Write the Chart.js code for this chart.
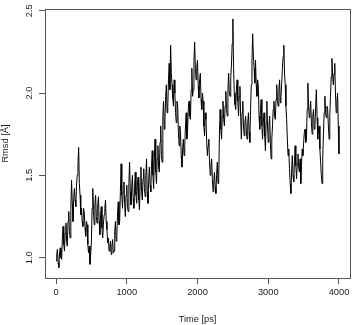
<!DOCTYPE html>
<html><head><meta charset="utf-8">
<script src="https://cdn.jsdelivr.net/npm/chart.js@4"></script>
<style>html,body{margin:0;padding:0;background:#fff}canvas{display:block}</style>
</head><body>
<canvas id="c" width="354" height="325"></canvas>
<script>
// Time axis: one sample every 10 ps starting at 0 ps
const timeStart = 0;
const timeStep = 10;
// RMSD values [Å] (one row = 200 ps)
const rmsd = [
  0.98,1.02,1.05,0.97,0.94,1.03,1.06,1.00,0.99,1.12,1.19,1.08,1.04,1.15,1.21,1.10,1.07,1.22,1.28,1.16,
  1.12,1.30,1.47,1.33,1.22,1.36,1.42,1.35,1.31,1.44,1.50,1.56,1.67,1.45,1.38,1.26,1.30,1.22,1.19,1.30,
  1.27,1.18,1.13,1.22,1.20,1.08,1.03,1.07,0.96,1.02,1.09,1.30,1.42,1.28,1.20,1.33,1.38,1.25,1.21,1.32,
  1.37,1.22,1.14,1.26,1.31,1.18,1.12,1.20,1.26,1.30,1.35,1.22,1.17,1.09,1.12,1.04,1.06,1.10,1.02,1.07,
  1.11,1.03,1.04,1.16,1.22,1.10,1.14,1.27,1.34,1.20,1.22,1.40,1.57,1.38,1.30,1.40,1.46,1.33,1.25,1.38,
  1.44,1.31,1.28,1.45,1.58,1.40,1.32,1.43,1.50,1.36,1.30,1.42,1.52,1.38,1.33,1.44,1.49,1.35,1.29,1.45,
  1.55,1.40,1.35,1.48,1.54,1.42,1.37,1.50,1.60,1.40,1.33,1.47,1.55,1.44,1.40,1.56,1.65,1.50,1.42,1.60,
  1.72,1.52,1.45,1.60,1.68,1.55,1.52,1.70,1.80,1.62,1.58,1.85,1.95,1.78,1.84,1.98,2.05,1.88,1.92,2.08,
  2.18,2.02,2.29,2.12,2.05,1.97,1.92,2.08,2.00,1.88,1.82,1.95,1.92,1.76,1.68,1.80,1.75,1.62,1.55,1.66,
  1.72,1.62,1.68,1.80,1.88,1.72,1.78,1.90,1.95,1.86,1.84,2.02,2.15,1.98,2.02,2.20,2.31,2.15,2.08,2.16,
  2.20,2.04,1.97,2.08,2.12,1.96,1.90,2.00,1.95,1.80,1.74,1.88,1.84,1.70,1.62,1.68,1.72,1.58,1.50,1.56,
  1.60,1.48,1.40,1.46,1.52,1.43,1.39,1.50,1.58,1.45,1.48,1.75,1.90,1.78,1.72,1.86,1.95,1.84,1.80,1.92,
  2.01,1.90,1.86,2.02,2.12,2.00,1.98,2.10,2.17,2.30,2.45,2.15,2.00,1.93,1.90,2.02,2.08,1.95,1.86,1.98,
  2.04,1.85,1.72,1.88,1.95,1.80,1.74,1.82,1.86,1.77,1.72,1.82,1.88,1.76,1.70,1.90,2.05,2.20,2.36,2.22,
  2.15,2.06,2.20,2.05,1.98,2.08,2.04,1.86,1.78,1.90,1.96,1.80,1.72,1.82,1.88,1.74,1.65,1.82,1.95,1.80,
  1.70,1.80,1.86,1.70,1.60,1.72,1.80,1.90,1.95,1.86,1.84,1.96,2.05,1.95,1.92,2.02,2.08,1.94,1.98,2.06,
  2.15,2.22,2.29,2.12,2.05,1.92,1.84,1.72,1.62,1.66,1.54,1.45,1.39,1.52,1.62,1.50,1.46,1.58,1.68,1.56,
  1.48,1.57,1.63,1.55,1.52,1.60,1.45,1.56,1.66,1.62,1.70,1.76,1.78,1.70,1.72,1.90,2.06,1.92,1.85,1.90,
  1.95,1.82,1.75,1.86,1.90,1.78,1.80,1.92,2.02,1.85,1.72,1.78,1.80,1.66,1.58,1.50,1.45,1.60,1.75,1.88,
  1.98,1.88,1.85,1.92,1.90,1.80,1.72,1.86,1.98,2.10,2.21,2.10,2.05,2.12,2.18,2.00,1.88,1.95,2.00,1.80,
  1.63
];
const xTicks = [0, 1000, 2000, 3000, 4000];
const xTickLabels = ['0', '1000', '2000', '3000', '4000'];
const yTicks = [1.0, 1.5, 2.0, 2.5];
const yTickLabels = ['1.0', '1.5', '2.0', '2.5'];
const xTitle = 'Time [ps]';
const yTitle = 'Rmsd [Å]';

const times = rmsd.map((_, i) => timeStart + i * timeStep);
const points = times.map((t, i) => ({ x: t, y: rmsd[i] }));

const boxPlugin = {
  id: 'box',
  afterDraw(chart) {
    const { ctx, chartArea: a } = chart;
    ctx.save();
    ctx.strokeStyle = '#555';
    ctx.lineWidth = 1;
    const l = Math.round(a.left), t = Math.round(a.top), r = Math.round(a.right), b = Math.round(a.bottom);
    ctx.strokeRect(l + 0.5, t + 0.5, r - l, b - t);
    ctx.restore();
  }
};

Chart.defaults.font.family = '"Liberation Sans", Arial, Helvetica, sans-serif';
Chart.defaults.font.size = 9.3;
Chart.defaults.color = '#222';

new Chart(document.getElementById('c'), {
  type: 'line',
  data: {
    datasets: [{
      data: points,
      borderColor: '#000',
      borderWidth: 1,
      pointRadius: 0,
      tension: 0,
      fill: false
    }]
  },
  options: {
    responsive: false,
    animation: false,
    devicePixelRatio: 1,
    layout: { padding: { top: 9, right: 4, left: 0, bottom: 0 } },
    plugins: { legend: { display: false }, tooltip: { enabled: false } },
    scales: {
      x: {
        type: 'linear',
        position: 'bottom',
        bounds: 'data',
        min: -155.5,
        max: 4155.5,
        afterBuildTicks: s => { s.ticks = xTicks.map(v => ({ value: v })); },
        afterFit: s => { s.height = 47; },
        ticks: { padding: 3, maxRotation: 0, autoSkip: false, callback: (v, i) => xTickLabels[i] },
        grid: { drawOnChartArea: false, drawTicks: true, tickLength: 6, color: '#555' },
        border: { display: false },
        title: { display: true, text: xTitle, padding: { top: 0, bottom: 0 } }
      },
      y: {
        type: 'linear',
        position: 'left',
        bounds: 'data',
        min: 0.8767,
        max: 2.5102,
        afterBuildTicks: s => { s.ticks = yTicks.map(v => ({ value: v })); },
        afterFit: s => { s.width = 45; },
        ticks: { minRotation: 90, maxRotation: 90, crossAlign: 'center', padding: 3, autoSkip: false, callback: (v, i) => yTickLabels[i] },
        grid: { drawOnChartArea: false, drawTicks: true, tickLength: 6, color: '#555' },
        border: { display: false },
        title: { display: true, text: yTitle, padding: { top: 0, bottom: 0 } }
      }
    }
  },
  plugins: [boxPlugin]
});
</script>
</body></html>
